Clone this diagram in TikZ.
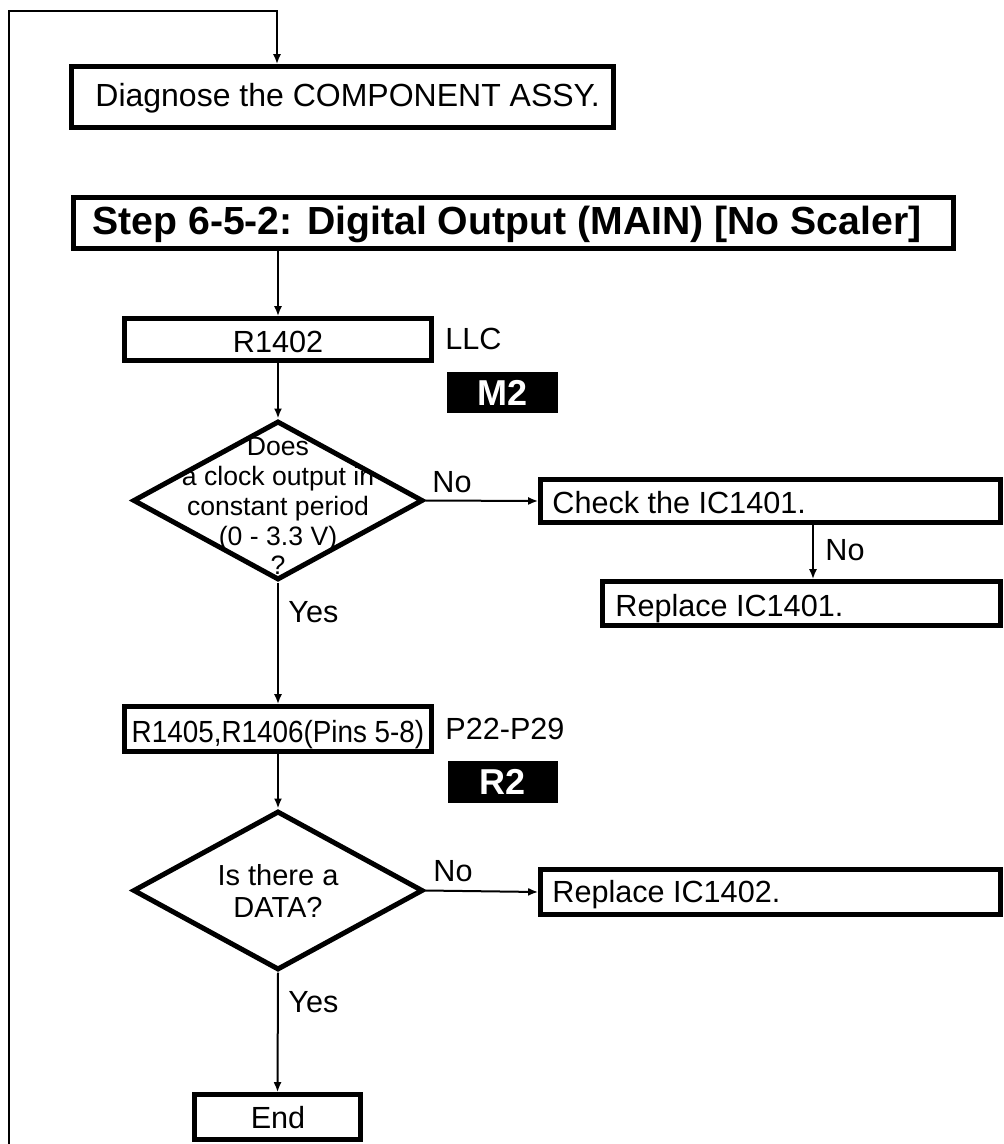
\documentclass[tikz,border=0pt]{standalone}
\usepackage{fontspec}
\setmainfont{Liberation Sans}
\usetikzlibrary{shapes.geometric,arrows.meta}
\begin{document}
\begin{tikzpicture}[x=0.5pt,y=-0.5pt,
  box/.style={draw, line width=2.3pt, inner sep=0pt, fill=white},
  tag/.style={fill=black, inner sep=0pt, text=white, font=\fontsize{18}{18}\selectfont\bfseries},
  dia/.style={draw, diamond, line width=2.5pt, inner sep=0pt, minimum width=145pt, minimum height=79.5pt},
  txt/.style={inner sep=0pt, font=\fontsize{15.3}{18}\selectfont},
  arr/.style={line width=1pt, -{Latex[length=5pt,width=4pt]}},
]
\fill[white] (0,0) rectangle (1004,1144);
\useasboundingbox (0,0) rectangle (1004,1144);

% boxes
\node[box, minimum width=271pt, minimum height=30.5pt] (diag) at (342.5,97) {};
\node[box, minimum width=440pt, minimum height=25.5pt] (stepbox) at (513.5,223) {};
\node[box, minimum width=153.5pt, minimum height=21pt] (r1402) at (278,339.5) {};
\node[box, minimum width=230pt, minimum height=21.5pt] (check) at (770.5,501) {};
\node[box, minimum width=199pt, minimum height=22pt] (rep1) at (801.5,603.5) {};
\node[box, minimum width=153.5pt, minimum height=22.5pt] (r1405) at (278,729) {};
\node[box, minimum width=230pt, minimum height=22.5pt] (rep2) at (770.5,892) {};
\node[box, minimum width=83pt, minimum height=22.5pt] (endbox) at (277.5,1117) {};
\node[dia] (d1) at (278,500.5) {};
\node[dia] (d2) at (278,890.5) {};
\node[tag, minimum width=55.5pt, minimum height=20.5pt] (m2) at (502.5,392.5) {M2};
\node[tag, minimum width=55pt, minimum height=21pt] (r2) at (503,782) {R2};

% texts
\node[txt, anchor=base west, font=\fontsize{16}{18}\selectfont] (diagT) at (95,107) {Diagnose the COMPONENT ASSY.};
\node[txt, anchor=base west, font=\fontsize{19.6}{22}\selectfont\bfseries] (stepT) at (92,235) {Step 6-5-2: Digital Output (MAIN) [No Scaler]};
\node[txt, anchor=base] (r1402T) at (278,352) {R1402};
\node[txt, anchor=base west] (llc) at (445,350) {LLC};
\node[txt, anchor=north, align=center, font=\fontsize{13.3}{14.9}\selectfont] (d1T) at (278,437) {Does\\a clock output in\\constant period\\(0 - 3.3 V)\\?};
\node[txt, anchor=base west] (no1) at (432,492) {No};
\node[txt, anchor=base west] (checkT) at (552,513) {Check the IC1401.};
\node[txt, anchor=base west] (no2) at (825,560) {No};
\node[txt, anchor=base west] (rep1T) at (615,616) {Replace IC1401.};
\node[txt, anchor=base west] (yes1) at (288,622) {Yes};
\node[txt, anchor=base] (r1405T) at (278,742) {\scalebox{0.91}[1]{R1405,R1406(Pins 5-8)}};
\node[txt, anchor=base west] (p22) at (445,739) {P22-P29};
\node[txt, anchor=north, align=center, font=\fontsize{14.5}{16}\selectfont] (d2T) at (278,864) {Is there a\\DATA?};
\node[txt, anchor=base west] (no3) at (433,881) {No};
\node[txt, anchor=base west] (rep2T) at (552,902) {Replace IC1402.};
\node[txt, anchor=base west] (yes2) at (288,1012) {Yes};
\node[txt, anchor=base] (endT) at (278,1128) {End};

% connectors
\coordinate (lp0) at (9,1144);
\coordinate (lp1) at (277,11);
\coordinate (cr) at (813,0);
\draw[arr] (lp0) |- (lp1) -- (lp1 |- diag.north);
\draw[arr] (r1402.north |- stepbox.south) -- (r1402.north);
\draw[arr] (r1402.south) -- (d1.north);
\draw[arr] (d1.east) -- (check.west);
\draw[arr] (cr |- check.south) -- (cr |- rep1.north);
\draw[arr] (d1.south) -- (r1405.north);
\draw[arr] (r1405.south) -- (d2.north);
\draw[arr] (d2.east) -- (rep2.west);
\draw[arr] (d2.south) -- (endbox.north);
\end{tikzpicture}
\end{document}
